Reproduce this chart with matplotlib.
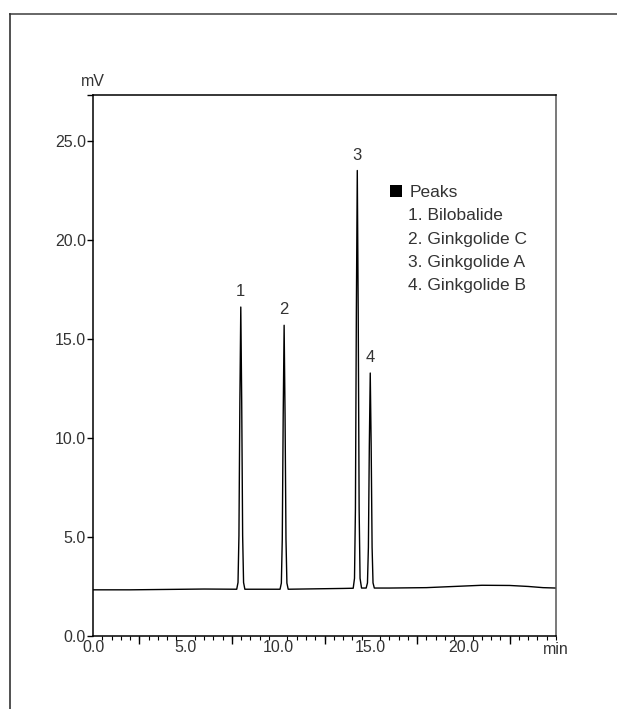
import matplotlib
matplotlib.use('Agg')
import matplotlib.pyplot as plt
from matplotlib.lines import Line2D
from matplotlib.patches import Rectangle
from matplotlib.ticker import MultipleLocator, FixedLocator

plt.rcParams['font.family'] = ['Liberation Sans', 'DejaVu Sans']

# chromatogram trace (min, mV)
time_min = [0.0, 2.0, 4.0, 6.0, 7.76, 7.83, 7.88, 7.93, 7.98, 8.03, 8.08, 8.13, 8.20,
            9.0, 10.10, 10.17, 10.22, 10.27, 10.32, 10.37, 10.42, 10.47, 10.54,
            12.0, 13.5, 14.05, 14.12, 14.17, 14.22, 14.27, 14.32, 14.37, 14.42, 14.50,
            14.75, 14.82, 14.87, 14.92, 14.97, 15.02, 15.07, 15.12, 15.19,
            16.0, 18.0, 19.5, 21.0, 22.5, 23.5, 24.3, 25.0]
signal_mv = [2.33, 2.33, 2.35, 2.37, 2.36, 2.70, 5.06, 11.76, 16.60, 11.76, 5.06, 2.70, 2.36,
             2.36, 2.36, 2.67, 4.88, 11.15, 15.68, 11.15, 4.88, 2.67, 2.36,
             2.38, 2.40, 2.41, 2.91, 6.41, 16.33, 23.49, 16.33, 6.41, 2.91, 2.42,
             2.42, 2.68, 4.47, 9.57, 13.27, 9.57, 4.47, 2.68, 2.42,
             2.42, 2.44, 2.50, 2.56, 2.55, 2.50, 2.44, 2.42]

peak_nums = ['1', '2', '3', '4']
peak_rt = [7.98, 10.32, 14.27, 14.97]
peak_top = [16.60, 15.68, 23.49, 13.27]
peak_names = ['Bilobalide', 'Ginkgolide C', 'Ginkgolide A', 'Ginkgolide B']

x_max = 25.0
y_max = 27.3

text_col = '#333333'

fig = plt.figure(figsize=(6.17, 7.09), dpi=100)
ax = fig.add_axes([93 / 617, 1 - 636 / 709, 463 / 617, 541 / 709])

ax.plot(time_min, signal_mv, color='black', lw=1.0)

ax.set_xlim(0, x_max)
ax.set_ylim(0, y_max)

# y ticks (extra unlabeled one at the top corner)
ax.yaxis.set_major_locator(FixedLocator([0, 5, 10, 15, 20, 25, y_max]))
ax.set_yticklabels(['0.0', '5.0', '10.0', '15.0', '20.0', '25.0', ''])
ax.tick_params(axis='y', direction='out', length=4, width=1, pad=1,
               labelsize=11.5, labelcolor=text_col)

# x ticks, labels every 5 min, small ticks every 0.5, longer at 2.5
ax.xaxis.set_major_locator(FixedLocator([0, 5, 10, 15, 20]))
ax.set_xticklabels(['0.0', '5.0', '10.0', '15.0', '20.0'])
ax.xaxis.set_minor_locator(MultipleLocator(0.5))
ax.tick_params(axis='x', which='major', direction='out', length=0, pad=3,
               labelsize=11.5, labelcolor=text_col)
ax.tick_params(axis='x', which='minor', direction='out', length=3, width=0.8)

sec = ax.secondary_xaxis('bottom')
sec.set_xticks([2.5, 7.5, 12.5, 17.5, 22.5])
sec.set_xticklabels([])
sec.tick_params(direction='out', length=6, width=1)
sec.spines['bottom'].set_visible(False)

for s in ax.spines.values():
    s.set_linewidth(1.1)
    s.set_color('black')
ax.spines['right'].set_color('#555555')

ax.text(0, 1.012, 'mV', transform=ax.transAxes, ha='center', va='bottom',
        fontsize=11.5, color=text_col)
ax.annotate('min', xy=(x_max, 0), xytext=(0, -6), textcoords='offset pixels',
            ha='center', va='top', fontsize=11.5, color=text_col,
            annotation_clip=False)

# peak numbers
for num, rt, top in zip(peak_nums, peak_rt, peak_top):
    ax.annotate(num, xy=(rt, top), xytext=(0, 8), textcoords='offset pixels',
                ha='center', va='bottom', fontsize=12, color=text_col)

# legend block
leg_x = (408 - 93) / 463
ax.add_patch(Rectangle(((390 - 93) / 463, (636 - 197) / 541), 12 / 463, 12 / 541,
                       transform=ax.transAxes, color='black', lw=0))
ax.text(leg_x + 0.004, (636 - 197) / 541, 'Peaks', transform=ax.transAxes,
        ha='left', va='baseline', fontsize=12.5, color=text_col)
for i, (num, name) in enumerate(zip(peak_nums, peak_names)):
    yb = 636 - (197 + 23.3 * (i + 1))
    ax.text(leg_x, yb / 541, f'{num}. {name}', transform=ax.transAxes,
            ha='left', va='baseline', fontsize=12.5, color=text_col)

# outer frame (top and left edges only)
fig.add_artist(Line2D([9.5 / 617, 1.0], [1 - 14 / 709, 1 - 14 / 709],
                      transform=fig.transFigure, color='#666666', lw=1.4))
fig.add_artist(Line2D([9.5 / 617, 9.5 / 617], [0.0, 1 - 14 / 709],
                      transform=fig.transFigure, color='#333333', lw=1.2))

fig.savefig('out.png', dpi=100)
